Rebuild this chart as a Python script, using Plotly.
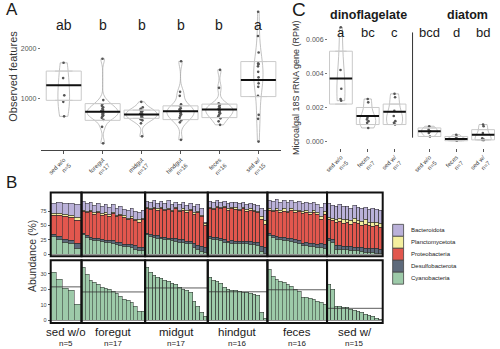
import plotly.graph_objects as go

W, H = 500, 349
FONT = "Liberation Sans, Arial, sans-serif"

# ---------------- Panel A: observed features ----------------
a_groups = ["sed w/o", "foregut", "midgut", "hindgut", "feces", "sed w/"]
a_n = [5, 17, 17, 16, 16, 15]
a_letters = ["ab", "b", "b", "b", "b", "a"]
a_points = [
    [1710, 1405, 1060, 930, 640],
    [1790, 965, 880, 850, 820, 790, 765, 745, 720, 700, 680, 660, 640, 610, 570, 430, 100],
    [930, 820, 790, 770, 750, 730, 700, 690, 680, 660, 640, 620, 600, 580, 560, 500, 240],
    [1740, 1130, 1050, 880, 840, 800, 780, 750, 730, 700, 680, 650, 610, 560, 520, 170],
    [1570, 1210, 900, 870, 840, 810, 790, 770, 750, 720, 700, 670, 640, 600, 540, 470],
    [2730, 2245, 1915, 1700, 1680, 1640, 1530, 1420, 1365, 1300, 1230, 1050, 670, 590, 135],
]
a_q1 = [960, 560, 600, 575, 615, 1035]
a_median = [1260, 730, 675, 740, 775, 1365]
a_q3 = [1545, 895, 765, 850, 885, 1735]
a_yticks = [1000, 2000]

# ---------------- Panel C: microalgal 18S ----------------
c_facets = ["dinoflagelate", "diatom"]
c_groups = ["sed w/o", "feces", "sed w/"]
c_n = [5, 7, 7]
c_letters = ["a", "bc", "c", "bcd", "d", "bd"]
c_points = [
    [0.0067, 0.0042, 0.0031, 0.0025, 0.0024],
    [0.0025, 0.0023, 0.0014, 0.0013, 0.0012, 0.0011, 0.0008],
    [0.0028, 0.0026, 0.0018, 0.0015, 0.0012, 0.0011, 0.0010],
    [0.0009, 0.0007, 0.0006, 0.0005, 0.0003],
    [0.0004, 0.0003, 0.0002, 0.00015, 0.0001, 0.0001, 0.00005],
    [0.0010, 0.0009, 0.0005, 0.0002, 0.0001, 0.0001, 0.0001],
]
c_q1 = [0.0022, 0.0010, 0.0010, 0.0003, 0.00005, 0.0001]
c_median = [0.0037, 0.0015, 0.00175, 0.0006, 0.00015, 0.0004]
c_q3 = [0.0053, 0.0020, 0.0022, 0.0008, 0.0003, 0.0007]
c_yticks = [0.0, 0.002, 0.004, 0.006]

# ---------------- Panel B: phylum composition ----------------
b_groups = ["sed w/o", "foregut", "midgut", "hindgut", "feces", "sed w/"]
b_n = [5, 17, 17, 16, 16, 15]
phyla = ["Bacteroidota", "Planctomycetota", "Proteobacteria", "Desulfobacterota", "Cyanobacteria"]
phylum_colors = ["#bab1d9", "#f4ef9f", "#e2574e", "#5e6a7b", "#9dcaa9"]

cyanobacteria = [
    [31, 26.5, 20.5, 19, 10.5],
    [34, 29.7, 25.8, 24.3, 23.2, 21.5, 20.4, 20, 18.9, 17.2, 15.7, 13.5, 12.9, 11.4, 9.2, 6, 6],
    [34, 31, 29, 28, 27, 26, 25, 24, 23, 21, 20, 19, 18, 12, 9, 5, 2.5],
    [27.5, 25.8, 25, 24, 21.3, 20, 19.5, 19, 18.5, 18, 18, 17.5, 17, 16, 5, 1],
    [32.9, 28.6, 26.5, 25.4, 24.3, 23.2, 22.2, 20, 18.9, 15.1, 14.7, 14.3, 13.6, 12.5, 11.4, 10.3],
    [23.2, 20, 9.2, 8.8, 8.4, 8.4, 7.3, 6.6, 6, 5, 4, 3, 2.3, 1.5, 0.8],
]
desulfobacterota = [
    [4, 4, 5, 5, 8],
    [3, 3, 4, 3, 4, 4, 3, 4, 5, 4, 5, 4, 5, 5, 6, 6, 5],
    [3, 3, 3, 4, 3, 4, 3, 4, 4, 4, 5, 4, 5, 6, 7, 8, 10],
    [3, 3, 4, 3, 4, 3, 4, 4, 3, 4, 4, 5, 4, 5, 8, 10],
    [4, 4, 5, 4, 5, 4, 5, 5, 5, 4, 5, 5, 6, 5, 8, 6],
    [5, 5, 6, 6, 6, 5, 7, 6, 6, 7, 6, 7, 7, 8, 8],
]
proteobacteria = [
    [33, 37.5, 40.5, 40, 39.5],
    [38, 39.3, 44.2, 42.7, 44.8, 42.5, 46.6, 42, 47.1, 43.8, 46.3, 46.5, 42.1, 45.6, 42.8, 44, 49],
    [43, 44, 47, 45, 50, 46, 50, 47, 52, 49, 52, 50, 53, 52, 56, 52, 37.5],
    [49.5, 49.2, 53, 52, 55.7, 54, 56.5, 55, 54.5, 57, 53, 54.5, 53, 51, 47, 41],
    [39.1, 41.4, 45.5, 43.6, 45.7, 44.8, 48.8, 48, 50.1, 51.9, 53.3, 50.7, 52.4, 51.5, 40.6, 53.7],
    [31.8, 33, 39.8, 42.2, 39.6, 42.6, 37.7, 42.4, 41, 38, 42, 40, 38.7, 40.5, 38.2],
]
planctomycetota = [
    [3, 3, 3, 4, 6],
    [2, 2, 3, 2, 2, 3, 2, 3, 2, 3, 2, 3, 3, 4, 3, 4, 3],
    [2, 2, 2, 2, 1.5, 2, 2, 2, 2, 2, 2, 3, 2, 3, 3, 3, 3],
    [2, 2, 2, 2, 2, 2, 2, 3, 2, 2, 3, 2, 3, 3, 5, 6],
    [3, 3, 3, 3, 4, 3, 3, 4, 3, 3, 4, 3, 4, 4, 6, 4],
    [4, 5, 6, 5, 7, 5, 6, 8, 6, 7, 8, 6, 7, 6, 6],
]
bacteroidota = [
    [17, 20, 20, 21, 22],
    [15, 14, 13, 13, 15, 13, 14, 13, 14, 12, 15, 11, 13, 14, 13, 12, 13],
    [10, 10, 12, 10, 10.5, 10, 14, 10, 10, 10, 11, 9, 11, 10, 11, 12, 3],
    [10, 10, 9, 10, 9, 10, 9, 9, 10, 9, 9, 10, 9, 10, 15, 18],
    [15, 15, 15, 14, 14, 16, 15, 13, 15, 15, 14, 15, 14, 14, 16, 14],
    [24, 22, 23, 24, 22, 23, 22, 22, 23, 22, 22, 22, 25, 22, 24],
]
# stacking order, bottom to top
stack = [
    ("Cyanobacteria", cyanobacteria),
    ("Desulfobacterota", desulfobacterota),
    ("Proteobacteria", proteobacteria),
    ("Planctomycetota", planctomycetota),
    ("Bacteroidota", bacteroidota),
]
b_top_ticks = [0, 25, 50, 75]
b_bot_ticks = [0, 10, 20, 30]


def px_x(p):
    return p / W


def px_y(p):
    return 1 - p / H


fig = go.Figure()

# ---------- Panel A traces ----------
for i, pts in enumerate(a_points):
    fig.add_trace(go.Box(
        x=[i], q1=[a_q1[i]], median=[a_median[i]], q3=[a_q3[i]],
        lowerfence=[a_q1[i]], upperfence=[a_q3[i]], width=0.9,
        line=dict(color="#cacaca", width=1), fillcolor="rgba(0,0,0,0)",
        boxpoints=False, xaxis="x", yaxis="y", showlegend=False, hoverinfo="skip"))
a_vwidth = [0.3, 0.8, 0.8, 0.7, 0.7, 0.24]
for i, pts in enumerate(a_points):
    fig.add_trace(go.Violin(
        x=[i] * len(pts), y=pts, width=a_vwidth[i], scalemode="width",
        spanmode="hard", line=dict(color="#a8a8a8", width=0.7),
        fillcolor="rgba(0,0,0,0)", points="all", pointpos=0, jitter=0.12,
        marker=dict(size=2.6, color="#555555"), box_visible=False,
        xaxis="x", yaxis="y", showlegend=False, hoverinfo="skip"))
for i in range(len(a_groups)):
    fig.add_trace(go.Scatter(
        x=[i - 0.45, i + 0.45], y=[a_median[i]] * 2, mode="lines",
        line=dict(color="#111111", width=2), xaxis="x", yaxis="y",
        showlegend=False, hoverinfo="skip"))

# ---------- Panel C traces ----------
c_gap = 3.3
c_pos = [f * c_gap + j for f in range(len(c_facets)) for j in range(len(c_groups))]
c_ticktext = [f"{g}<br>n={n}" for _ in c_facets for g, n in zip(c_groups, c_n)]
for k, pts in enumerate(c_points):
    fig.add_trace(go.Box(
        x=[c_pos[k]], q1=[c_q1[k]], median=[c_median[k]], q3=[c_q3[k]],
        lowerfence=[c_q1[k]], upperfence=[c_q3[k]], width=0.85,
        line=dict(color="#cacaca", width=1), fillcolor="rgba(0,0,0,0)",
        boxpoints=False, xaxis="x2", yaxis="y2", showlegend=False, hoverinfo="skip"))
c_vwidth = [0.3, 0.6, 0.6, 0.6, 0.7, 0.6]
for k, pts in enumerate(c_points):
    fig.add_trace(go.Violin(
        x=[c_pos[k]] * len(pts), y=pts, width=c_vwidth[k], scalemode="width",
        spanmode="hard", line=dict(color="#a8a8a8", width=0.7),
        fillcolor="rgba(0,0,0,0)", points="all", pointpos=0, jitter=0.12,
        marker=dict(size=2.6, color="#555555"), box_visible=False,
        xaxis="x2", yaxis="y2", showlegend=False, hoverinfo="skip"))
for k in range(len(c_points)):
    fig.add_trace(go.Scatter(
        x=[c_pos[k] - 0.42, c_pos[k] + 0.42], y=[c_median[k]] * 2, mode="lines",
        line=dict(color="#111111", width=2), xaxis="x2", yaxis="y2",
        showlegend=False, hoverinfo="skip"))

# ---------- Panel B traces ----------
facet_px = [(48, 79), (79, 143), (143, 206), (206, 266), (266, 326), (326, 382)]
top_px = (193, 257)
bot_px = (261, 324)
color_of = dict(zip(phyla, phylum_colors))
for g in range(len(b_groups)):
    xa = "x" + str(g + 3)
    xs = list(range(b_n[g]))
    for name, series in stack:
        fig.add_trace(go.Bar(
            x=xs, y=series[g], width=1, marker=dict(color=color_of[name],
            line=dict(color="#2a2a2a", width=0.5)),
            xaxis=xa, yaxis="y3", showlegend=False, hoverinfo="skip"))
    fig.add_trace(go.Bar(
        x=xs, y=cyanobacteria[g], width=1, marker=dict(color=color_of["Cyanobacteria"],
        line=dict(color="#2a2a2a", width=0.5)),
        xaxis=xa, yaxis="y4", showlegend=False, hoverinfo="skip"))
    mean_c = sum(cyanobacteria[g]) / len(cyanobacteria[g])
    fig.add_trace(go.Scatter(
        x=[-0.5, b_n[g] - 0.5], y=[mean_c, mean_c], mode="lines",
        line=dict(color="#333333", width=0.8), xaxis=xa, yaxis="y4",
        showlegend=False, hoverinfo="skip"))

layout = dict(
    width=W, height=H, margin=dict(l=0, r=0, t=0, b=0),
    paper_bgcolor="white", plot_bgcolor="white",
    font=dict(family=FONT, color="#222"),
    barmode="stack", bargap=0, boxmode="overlay", violinmode="overlay",
    showlegend=False,
)

layout["xaxis"] = dict(
    domain=[px_x(38), px_x(280)], range=[-0.59, 5.59], anchor="y",
    tickvals=list(range(len(a_groups))),
    ticktext=[f"{g}<br>n={n}" for g, n in zip(a_groups, a_n)],
    tickangle=-45, tickfont=dict(size=6, color="#444"), ticks="outside",
    ticklen=3, tickcolor="#555", showline=True, linecolor="#444", linewidth=1,
    showgrid=False, zeroline=False)
layout["yaxis"] = dict(
    domain=[px_y(150.5), px_y(5)], range=[-34, 2866], anchor="x",
    tickvals=a_yticks, ticktext=[str(v) for v in a_yticks],
    tickfont=dict(size=7, color="#555"), ticks="outside", ticklen=2,
    tickcolor="#777", showline=False, showgrid=False, zeroline=False)

layout["xaxis2"] = dict(
    domain=[px_x(327), px_x(500)], range=[-0.48, 5.93], anchor="y2",
    tickvals=c_pos, ticktext=c_ticktext, tickangle=-45,
    tickfont=dict(size=6, color="#444"), ticks="outside", ticklen=3,
    tickcolor="#555", showline=False, showgrid=False, zeroline=False)
layout["yaxis2"] = dict(
    domain=[px_y(148), px_y(18)], range=[-0.000351, 0.00725], anchor="x2",
    tickvals=c_yticks, ticktext=[f"{v:.3f}" for v in c_yticks],
    tickfont=dict(size=7, color="#555"), ticks="outside", ticklen=2,
    tickcolor="#777", showline=False, showgrid=False, zeroline=False)

for g, (x0, x1) in enumerate(facet_px):
    layout["xaxis" + str(g + 3)] = dict(
        domain=[px_x(x0), px_x(x1)], range=[-0.55, b_n[g] - 0.45],
        anchor="y3", showticklabels=False, ticks="", showgrid=False,
        zeroline=False, showline=False)
layout["yaxis3"] = dict(
    domain=[px_y(top_px[1]), px_y(top_px[0])], range=[-3.5, 107.6], anchor="x3",
    tickvals=b_top_ticks, tickfont=dict(size=5.5, color="#444"), ticks="outside",
    ticklen=2, tickcolor="#555", showgrid=False, zeroline=False, showline=False)
layout["yaxis4"] = dict(
    domain=[px_y(bot_px[1]), px_y(bot_px[0])], range=[-1.9, 38.7], anchor="x3",
    tickvals=b_bot_ticks, tickfont=dict(size=5.5, color="#444"), ticks="outside",
    ticklen=2, tickcolor="#555", showgrid=False, zeroline=False, showline=False)

shapes = []
for g in range(len(b_groups)):
    for ya in ("y3", "y4"):
        shapes.append(dict(type="rect", xref="x" + str(g + 3) + " domain",
                           yref=ya + " domain", x0=0, x1=1, y0=0, y1=1,
                           line=dict(color="#111", width=2), layer="above"))
# divider between the two microalgal facets
shapes.append(dict(type="line", xref="x2", yref="y2",
                   x0=c_gap - 0.63, x1=c_gap - 0.63, y0=0.00023, y1=0.0064,
                   line=dict(color="#333", width=1)))

annotations = []


def note(text, x, y, size, xref="paper", yref="paper", **kw):
    d = dict(text=text, x=x, y=y, xref=xref, yref=yref, showarrow=False,
             xanchor="center", yanchor="middle",
             font=dict(size=size, family=FONT, color=kw.pop("color", "#1a1a1a")))
    d.update(kw)
    annotations.append(d)


note("A", px_x(9), px_y(10), 17)
note("B", px_x(9), px_y(183), 17)
note("C", px_x(298), px_y(10), 19)

for i, t in enumerate(a_letters):
    note(t, i, 2470, 14, xref="x", yref="y")
for k, t in enumerate(c_letters):
    note(t, c_pos[k], 0.0064, 13, xref="x2", yref="y2")
note("<b>dinoflagelate</b>", px_x(368), px_y(15), 12.5)
note("<b>diatom</b>", px_x(467), px_y(15), 12.5)

note("Observed features", px_x(10), px_y(76), 11, textangle=-90, color="#333")
note("Microalgal 18S rRNA gene (RPM)", px_x(295), px_y(88), 9, textangle=-90, color="#333")
note("Abundance (%)", px_x(29), px_y(257), 10.5, textangle=-90, color="#333")

for g, (x0, x1) in enumerate(facet_px):
    cx = px_x((x0 + x1) / 2)
    note(b_groups[g], cx, px_y(333), 11.5)
    note(f"n={b_n[g]}", cx, px_y(344), 8)

# legend for panel B
leg_top = 225
for j, name in enumerate(phyla):
    y0 = leg_top + j * 12
    shapes.append(dict(type="rect", xref="paper", yref="paper",
                       x0=px_x(392), x1=px_x(403), y0=px_y(y0 + 12), y1=px_y(y0),
                       fillcolor=phylum_colors[j], line=dict(color="#444", width=0.8)))
    note(name, px_x(408), px_y(y0 + 6), 6, xanchor="left")

layout["shapes"] = shapes
layout["annotations"] = annotations
fig.update_layout(**layout)
fig.write_html("out.html")
